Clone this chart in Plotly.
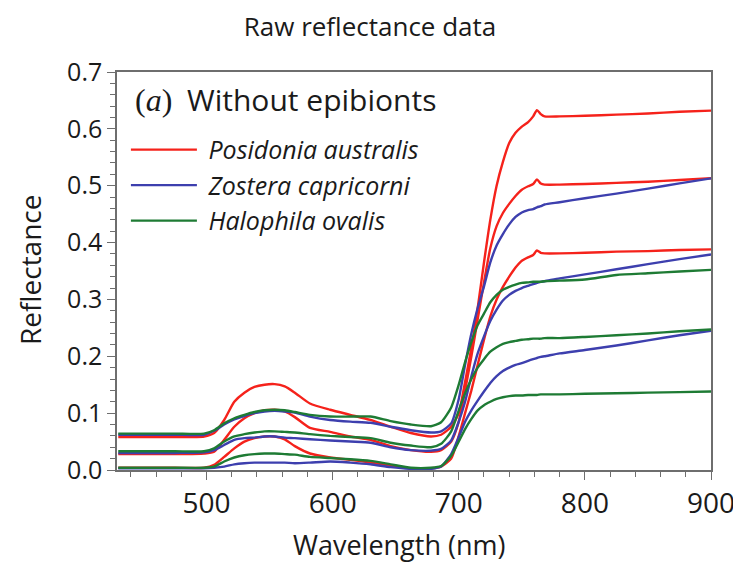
import plotly.graph_objects as go

wavelength = [430, 450, 475, 498, 506, 514, 522, 530, 538, 546, 554, 562, 570, 582, 598, 614,
              630, 646, 662, 678, 686, 694, 700, 705, 710, 715, 720, 725, 730, 735, 740, 745,
              750, 755, 759, 762, 765, 768, 780, 800, 825, 850, 875, 900]

posidonia_1 = [.058, .058, .058, .059, .065, .088, .120, .136, .146, .150, .151, .147, .136, .117, .106, .097,
               .088, .076, .065, .059, .062, .076, .100, .155, .215, .285, .365, .440, .500, .542, .575, .593,
               .604, .612, .622, .633, .626, .622, .622, .623, .625, .627, .630, .632]
posidonia_2 = [.028, .028, .028, .029, .032, .053, .076, .091, .100, .105, .106, .103, .093, .074, .067, .059,
               .053, .042, .035, .032, .035, .050, .085, .140, .200, .265, .330, .390, .429, .452, .468, .482,
               .493, .499, .503, .511, .504, .502, .502, .503, .505, .507, .510, .513]
posidonia_3 = [.004, .004, .004, .004, .009, .023, .038, .050, .056, .059, .059, .054, .042, .029, .022, .018,
               .013, .008, .003, .003, .006, .020, .060, .100, .140, .185, .229, .270, .300, .322, .340, .356,
               .368, .374, .378, .386, .382, .381, .381, .382, .384, .385, .387, .388]

zostera_1 = [.062, .062, .062, .062, .069, .080, .089, .095, .100, .103, .104, .103, .101, .094, .088, .085,
             .083, .076, .070, .066, .068, .082, .125, .185, .240, .285, .323, .365, .395, .415, .432, .445,
             .453, .457, .459, .462, .464, .467, .471, .478, .486, .495, .504, .513]
zostera_2 = [.030, .030, .030, .031, .035, .044, .053, .056, .057, .059, .059, .057, .056, .054, .052, .050,
             .048, .040, .035, .034, .037, .052, .085, .120, .165, .205, .235, .262, .282, .298, .308, .315,
             .320, .324, .327, .329, .331, .332, .337, .344, .353, .362, .371, .379]
zostera_3 = [.003, .003, .003, .003, .004, .006, .010, .012, .013, .013, .013, .013, .012, .013, .015, .013,
             .010, .005, .002, .002, .006, .028, .058, .085, .105, .122, .138, .153, .165, .174, .180, .185,
             .188, .192, .195, .197, .199, .200, .205, .211, .219, .228, .237, .245]

halophila_1 = [.064, .064, .064, .064, .070, .082, .091, .097, .102, .105, .106, .105, .102, .097, .094, .094,
               .094, .086, .080, .077, .084, .110, .150, .190, .225, .255, .275, .295, .308, .317, .322, .326,
               .329, .330, .331, .331, .331, .332, .333, .335, .343, .346, .349, .352]
halophila_2 = [.033, .033, .033, .033, .038, .050, .059, .063, .066, .068, .068, .067, .066, .063, .060, .058,
               .056, .048, .043, .040, .046, .068, .105, .135, .160, .180, .195, .208, .216, .222, .225, .227,
               .229, .230, .231, .231, .231, .232, .232, .234, .237, .240, .244, .247]
halophila_3 = [.004, .004, .004, .004, .006, .015, .022, .026, .028, .029, .029, .028, .027, .023, .021, .019,
               .016, .010, .004, .004, .007, .025, .050, .072, .090, .105, .114, .120, .125, .128, .130, .131,
               .131, .132, .132, .132, .133, .133, .133, .134, .135, .136, .137, .138]

x_ticks = [500, 600, 700, 800, 900]

species = [
    ("Posidonia australis", "#f5221b", [posidonia_1, posidonia_2, posidonia_3]),
    ("Zostera capricorni", "#3d3fae", [zostera_1, zostera_2, zostera_3]),
    ("Halophila ovalis", "#1e7b34", [halophila_1, halophila_2, halophila_3]),
]

FONT = "Open Sans"
TXT = "#1a1a1a"
AX = "#6e6e6e"

fig = go.Figure()
for name, color, series in species:
    for i, vals in enumerate(series):
        fig.add_trace(go.Scatter(
            x=wavelength, y=vals, mode="lines",
            line=dict(color=color, width=2.4, shape="spline", smoothing=0.6),
            name=f"&nbsp;<i>{name}</i>", legendgroup=name, showlegend=(i == 0),
            hoverinfo="skip",
        ))

axis_common = dict(
    showline=True, linecolor=AX, linewidth=1.5, mirror=True,
    ticks="outside", ticklen=8, tickwidth=1.3, tickcolor=AX,
    showgrid=False, zeroline=False,
)

fig.update_xaxes(
    range=[429, 900], tickvals=x_ticks,
    tickfont=dict(family=FONT, size=28, color=TXT),
    minor=dict(dtick=20, tick0=0, ticks="outside", ticklen=5, tickcolor=AX, tickwidth=1),
    **axis_common,
)
fig.update_yaxes(
    range=[0, 0.7], dtick=0.1, tickformat=".1f",
    tickfont=dict(family=FONT, size=25, color=TXT),
    minor=dict(dtick=0.02, ticks="outside", ticklen=5, tickcolor=AX, tickwidth=1),
    **axis_common,
)

fig.update_layout(
    width=741, height=564,
    margin=dict(l=109, r=38, t=64, b=102),
    paper_bgcolor="white", plot_bgcolor="white",
    title=dict(text="Raw reflectance data", x=362 / 741, xref="container", xanchor="center",
               y=1 - 19 / 564, yref="container", yanchor="middle",
               font=dict(family=FONT, size=26, color=TXT)),
    legend=dict(x=0.015, y=0.862, xanchor="left", yanchor="top",
                bgcolor="rgba(0,0,0,0)", font=dict(family=FONT, size=25, color=TXT),
                itemwidth=66, tracegroupgap=0),
    showlegend=True,
    annotations=[
        dict(text="(<i>a</i>)", x=0.027, y=0.930, xref="paper", yref="paper",
             xanchor="left", yanchor="middle", showarrow=False,
             font=dict(family="Liberation Serif", size=32, color=TXT)),
        dict(text="Without epibionts", x=0.1145, y=0.930, xref="paper", yref="paper",
             xanchor="left", yanchor="middle", showarrow=False,
             font=dict(family=FONT, size=30, color=TXT)),
        dict(text="Wavelength (nm)", x=0.475, y=-0.188, xref="paper", yref="paper",
             xanchor="center", yanchor="middle", showarrow=False,
             font=dict(family=FONT, size=27, color=TXT)),
        dict(text="Reflectance", x=-0.1465, y=0.5025, xref="paper", yref="paper",
             xanchor="center", yanchor="middle", showarrow=False, textangle=-90,
             font=dict(family=FONT, size=28, color=TXT)),
    ],
)

fig.write_html("out.html")
